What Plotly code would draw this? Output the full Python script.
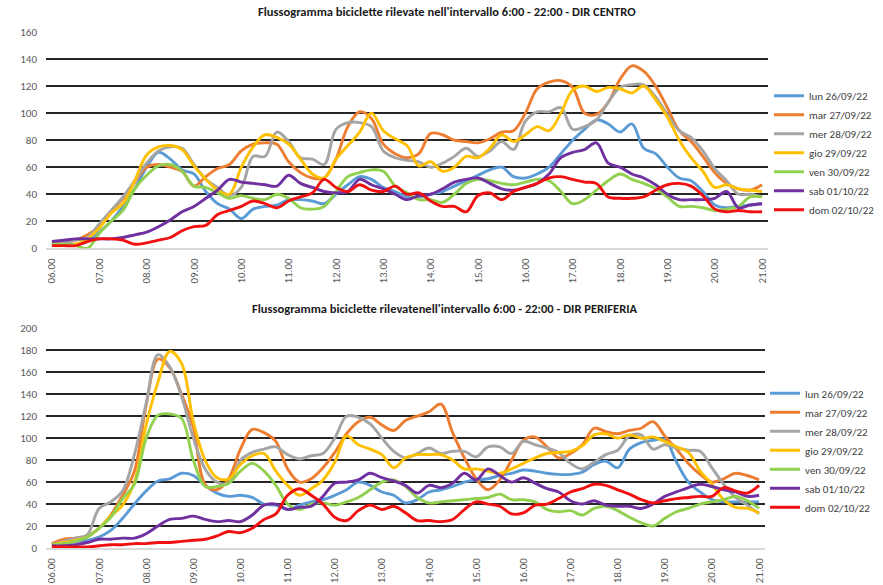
import plotly.graph_objects as go

# 15-minute time slots from 06.00 to 21.00
times = [f"{6 + k // 4:02d}.{15 * (k % 4):02d}" for k in range(61)]
hour_ticks = times[::4]

days = ["lun 26/09/22", "mar 27/09/22", "mer 28/09/22", "gio 29/09/22",
        "ven 30/09/22", "sab 01/10/22", "dom 02/10/22"]
colors = ["#5B9BD5", "#ED7D31", "#A5A5A5", "#FFC000", "#92D050", "#7030A0", "#F01010"]

# DIR CENTRO - bikes counted per 15-minute slot
lun_c = [3,3,3,5,12,20,31,44,60,71,66,58,55,42,33,29,22,29,31,32,36,36,35,33,40,47,53,51,45,42,38,38,40,42,46,50,54,58,60,53,52,55,60,70,80,88,95,92,86,92,74,70,60,52,50,42,32,30,31,32,33]
mar_c = [3,4,6,10,16,27,37,49,60,62,60,57,46,53,59,62,72,77,78,77,64,56,52,52,66,90,101,96,77,70,67,70,85,84,80,79,78,81,86,87,100,118,123,124,119,100,99,108,125,135,131,120,104,87,79,68,56,48,44,43,47]
mer_c = [3,4,6,8,18,28,38,50,63,72,75,74,62,51,45,39,45,68,68,86,79,67,66,62,88,93,93,90,72,67,65,64,60,63,68,74,68,72,79,73,94,101,101,104,88,90,95,108,119,121,121,112,99,87,82,72,59,50,40,40,38]
gio_c = [2,2,3,7,15,26,33,50,69,75,76,73,61,51,43,40,60,75,84,82,77,66,55,52,66,76,86,100,87,81,76,61,64,57,60,68,67,74,84,79,84,90,87,100,117,120,116,119,118,115,120,110,97,80,67,57,45,47,44,43,42]
ven_c = [3,3,2,0,11,20,28,44,54,61,62,57,46,45,41,37,39,37,36,40,37,30,29,31,42,53,56,58,57,46,41,36,36,34,40,48,51,50,48,47,49,51,50,42,33,36,43,50,55,51,48,44,38,31,31,30,28,29,31,38,38]
sab_c = [5,6,7,7,7,7,8,10,12,16,21,27,31,37,43,51,49,48,47,46,54,48,45,42,41,42,51,47,44,40,36,39,40,44,49,51,52,48,44,43,45,48,55,67,71,73,78,63,60,55,52,47,40,36,36,36,37,42,30,32,33]
dom_c = [2,2,2,5,7,7,6,3,4,6,8,13,16,17,25,28,31,35,33,30,35,38,41,51,45,42,47,43,42,46,40,41,35,31,31,27,39,41,36,42,45,48,52,53,51,49,48,38,37,37,38,43,47,48,46,39,29,27,28,27,27]

# DIR PERIFERIA - bikes counted per 15-minute slot
lun_p = [3,4,6,7,10,16,27,40,52,61,63,68,66,57,50,47,48,46,40,39,35,39,42,44,48,53,60,57,51,48,41,44,51,53,56,60,62,63,66,68,71,70,68,67,67,69,76,79,73,90,96,98,99,78,60,51,44,42,42,42,42]
mar_p = [4,8,9,11,18,30,48,70,130,172,164,140,110,58,53,63,90,108,105,97,72,60,63,73,87,104,115,119,112,107,116,120,124,131,105,82,63,53,62,80,98,101,92,82,86,94,109,106,104,107,109,115,102,90,77,67,60,63,68,66,62]
mer_p = [3,6,9,12,36,42,52,85,132,176,165,138,100,72,60,59,80,87,90,92,85,81,84,86,100,120,119,113,100,88,82,86,91,86,88,88,83,92,92,86,97,94,91,87,77,72,78,85,89,102,103,90,94,91,89,88,73,58,46,39,31]
gio_p = [3,5,7,10,18,29,39,60,112,151,179,168,115,80,64,63,76,84,86,70,57,48,54,62,78,102,94,90,85,73,82,85,85,85,80,72,72,70,68,72,77,82,86,87,88,93,103,104,100,103,100,101,97,92,87,70,58,44,37,36,32]
ven_p = [3,4,6,10,18,28,45,58,100,121,122,118,80,56,56,59,70,77,70,57,40,35,40,41,39,42,46,53,60,62,56,46,41,42,43,44,45,46,49,44,44,42,35,33,34,30,36,38,34,28,23,20,27,33,36,40,42,44,47,43,36]
sab_p = [2,2,3,5,8,8,9,9,13,20,26,27,29,26,24,25,24,30,39,40,35,37,38,47,59,60,62,68,64,61,57,50,57,55,59,68,62,72,66,60,64,59,54,51,43,40,43,39,38,38,36,40,47,51,55,58,56,53,51,47,48]
dom_p = [1,1,1,1,2,3,3,4,4,5,5,6,7,8,11,15,14,18,26,31,48,54,48,40,28,25,34,39,35,38,32,25,25,24,26,35,42,40,38,31,32,39,40,45,51,54,58,57,53,49,44,41,43,45,46,47,47,55,52,50,57]

centro = [lun_c, mar_c, mer_c, gio_c, ven_c, sab_c, dom_c]
periferia = [lun_p, mar_p, mer_p, gio_p, ven_p, sab_p, dom_p]

FONT = "Carlito, Lato, sans-serif"
LINE_W = 2.9

fig = go.Figure()
for name, col, vals in zip(days, colors, centro):
    fig.add_trace(go.Scatter(x=times, y=vals, name=name, mode="lines",
                             line=dict(color=col, width=LINE_W, shape="spline", smoothing=1.0),
                             xaxis="x", yaxis="y", legend="legend"))
for name, col, vals in zip(days, colors, periferia):
    fig.add_trace(go.Scatter(x=times, y=vals, name=name, mode="lines",
                             line=dict(color=col, width=LINE_W, shape="spline", smoothing=1.0),
                             xaxis="x2", yaxis="y2", legend="legend2"))

tickfont = dict(family=FONT, size=11, color="#595959")
xcommon = dict(type="category", categoryorder="array", categoryarray=times,
               range=[-0.5, len(times) - 0.5], tickmode="array", tickvals=hour_ticks,
               tickangle=-90, showgrid=False, showline=True, linecolor="#d9d9d9",
               linewidth=1.5, ticks="", tickfont=tickfont, ticklabelstandoff=4,
               layer="below traces", fixedrange=True, automargin=False)
ycommon = dict(dtick=20, showgrid=True, gridcolor="#262626", gridwidth=1.5,
               zeroline=False, showline=False, ticks="", tickfont=tickfont,
               ticklabelstandoff=8, fixedrange=True, automargin=False)

legfont = dict(family=FONT, size=11, color="#404040")
fig.update_layout(
    width=883, height=585,
    margin=dict(l=46, r=115, t=32, b=37, autoexpand=False),
    paper_bgcolor="white", plot_bgcolor="white",
    xaxis=dict(domain=[0, 1], anchor="y", **xcommon),
    yaxis=dict(domain=[0.5808, 1], anchor="x", range=[0, 160], **ycommon),
    xaxis2=dict(domain=[0, 0.9958], anchor="y2", **xcommon),
    yaxis2=dict(domain=[0, 0.4258], anchor="x2", range=[0, 200], **ycommon),
    legend=dict(xref="container", yref="container", x=0.8709, y=0.8612,
                xanchor="left", yanchor="top",
                font=legfont, bgcolor="rgba(0,0,0,0)", tracegroupgap=0),
    legend2=dict(xref="container", yref="container", x=0.8664, y=0.3525,
                 xanchor="left", yanchor="top",
                 font=legfont, bgcolor="rgba(0,0,0,0)", tracegroupgap=0),
    showlegend=True,
    annotations=[
        dict(text="<b>Flussogramma biciclette rilevate nell'intervallo 6:00 - 22:00 - DIR CENTRO</b>",
             xref="paper", yref="paper", x=0.5554, y=1.0388, xanchor="center", yanchor="middle",
             showarrow=False, font=dict(family=FONT, size=12.5, color="#1a1a1a")),
        dict(text="<b>Flussogramma biciclette rilevatenell'intervallo 6:00 - 22:00 - DIR PERIFERIA</b>",
             xref="paper", yref="paper", x=0.5533, y=0.4651, xanchor="center", yanchor="middle",
             showarrow=False, font=dict(family=FONT, size=12.5, color="#1a1a1a")),
    ],
)

fig.write_html("out.html")
